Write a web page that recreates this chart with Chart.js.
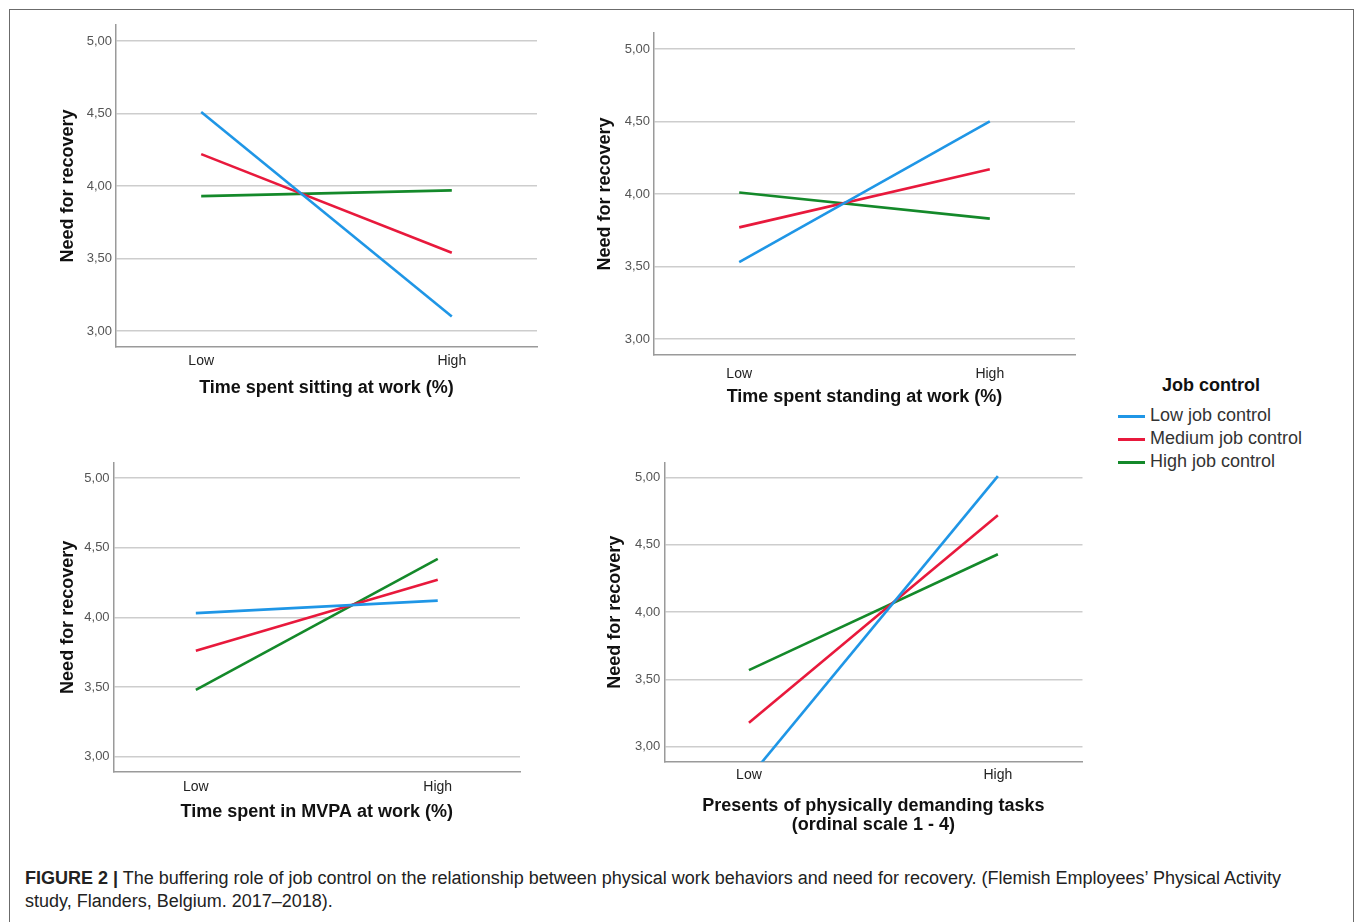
<!DOCTYPE html>
<html lang="en">
<head>
<meta charset="UTF-8">
<title>Figure 2: Job control and need for recovery</title>
<script src="https://cdn.jsdelivr.net/npm/chart.js"></script>
<style>
    body{margin:0;background:#fff;font-family:"Liberation Sans",Arial,sans-serif;}
    #frame{position:absolute;left:9px;top:9px;width:1343px;height:940px;border:1.5px solid #6b6b6b;border-bottom:none;}
    canvas{position:absolute;}
    #legend{position:absolute;left:1118px;top:375px;width:230px;color:#333;}
    #legend .head{font-weight:bold;font-size:18px;color:#111;text-align:center;width:186px;margin-bottom:8px;}
    #legend .item{font-size:18px;height:23px;line-height:23px;white-space:nowrap;}
    #legend .sw{display:inline-block;width:27px;height:3.5px;vertical-align:middle;margin-right:5px;}
    #caption{position:absolute;left:25px;top:867px;width:1268px;font-size:18px;line-height:23px;color:#222;}
</style>
</head>
<body>
<div id="frame"></div>
<canvas id="c1" width="540" height="400" style="left:30px;top:10px"></canvas>
<canvas id="c2" width="540" height="410" style="left:570px;top:10px"></canvas>
<canvas id="c3" width="540" height="400" style="left:30px;top:440px"></canvas>
<canvas id="c4" width="530" height="400" style="left:580px;top:440px"></canvas>
<div id="legend"></div>
<div id="caption"><b>FIGURE 2 |</b> The buffering role of job control on the relationship between physical work behaviors and need for recovery. (Flemish Employees’ Physical Activity study, Flanders, Belgium. 2017–2018).</div>
<script>
// data
const xLabels=['Low','High'];
const xPos=[0,1];
const yTicks=[3,3.5,4,4.5,5];
const seriesNames=['Low job control','Medium job control','High job control'];
const seriesColors=['#1f96e6','#e8193c','#14892a'];

const sittingLow=[4.51,3.10];
const sittingMedium=[4.22,3.54];
const sittingHigh=[3.93,3.97];

const standingLow=[3.53,4.50];
const standingMedium=[3.77,4.17];
const standingHigh=[4.01,3.83];

const mvpaLow=[4.03,4.12];
const mvpaMedium=[3.76,4.27];
const mvpaHigh=[3.48,4.42];

const demandingLow=[2.77,5.01];
const demandingMedium=[3.18,4.72];
const demandingHigh=[3.57,4.43];

Chart.defaults.font.family='"Liberation Sans", Arial, sans-serif';

function makePanel(id,title,series,p){
    const datasets=series.map((vals,i)=>({
        label:seriesNames[i],
        data:xPos.map((x,j)=>({x:x,y:vals[j]})),
        borderColor:seriesColors[i],
        borderWidth:2.6,
        pointRadius:0,
        clip:0
    }));
    new Chart(document.getElementById(id),{
        type:'line',
        data:{datasets:datasets},
        options:{
            responsive:false,
            animation:false,
            layout:{padding:{top:p.padTop,right:p.padRight,left:0,bottom:0}},
            plugins:{legend:{display:false},tooltip:{enabled:false}},
            scales:{
                x:{
                    type:'linear',min:-0.34,max:1.34,
                    afterBuildTicks:s=>{s.ticks=xPos.map(v=>({value:v}));},
                    afterFit:s=>{s.height=p.xHeight;},
                    grid:{display:false,drawTicks:false},
                    border:{display:true,color:'#9a9a9a',width:1.5},
                    ticks:{padding:p.xTickPad,color:'#222',font:{size:14},callback:(v,i)=>xLabels[i]},
                    title:{display:true,text:title,color:'#111',font:{size:18,weight:'bold',lineHeight:p.titleLH||1.2},padding:{top:0,bottom:p.xTitlePad}}
                },
                y:{
                    min:2.89,max:5.11,
                    afterBuildTicks:s=>{s.ticks=yTicks.map(v=>({value:v}));},
                    afterFit:s=>{s.width=p.yWidth;},
                    grid:{color:'#cdcdcd',lineWidth:1.5,drawTicks:false},
                    border:{color:'#9a9a9a',width:1.5},
                    ticks:{padding:4,color:'#555',font:{size:13},callback:v=>v.toFixed(2).replace('.',',')},
                    title:{display:true,text:'Need for recovery',color:'#111',font:{size:18,weight:'bold'},padding:{top:p.yTitlePad,bottom:0}}
                }
            }
        }
    });
}

makePanel('c1','Time spent sitting at work (%)',[sittingLow,sittingMedium,sittingHigh],
    {padTop:15,padRight:33,yWidth:86,xHeight:63,xTickPad:5.6,xTitlePad:11.2,yTitlePad:27.2});
makePanel('c2','Time spent standing at work (%)',[standingLow,standingMedium,standingHigh],
    {padTop:23,padRight:35,yWidth:84,xHeight:65,xTickPad:10.6,xTitlePad:12.2,yTitlePad:24.2});
makePanel('c3','Time spent in MVPA at work (%)',[mvpaLow,mvpaMedium,mvpaHigh],
    {padTop:22.7,padRight:50,yWidth:83.6,xHeight:68,xTickPad:6.3,xTitlePad:16.9,yTitlePad:27.2});
makePanel('c4',['Presents of physically demanding tasks','(ordinal scale 1 - 4)'],[demandingLow,demandingMedium,demandingHigh],
    {padTop:22.7,padRight:27.5,yWidth:84.3,xHeight:78.3,xTickPad:4.9,xTitlePad:5.2,yTitlePad:24.6,titleLH:1.08});

// legend shared by the four panels
const legend=document.getElementById('legend');
legend.innerHTML='<div class="head">Job control</div>'+
    seriesNames.map((n,i)=>`<div class="item"><span class="sw" style="background:${seriesColors[i]}"></span>${n}</div>`).join('');
</script>
</body>
</html>
